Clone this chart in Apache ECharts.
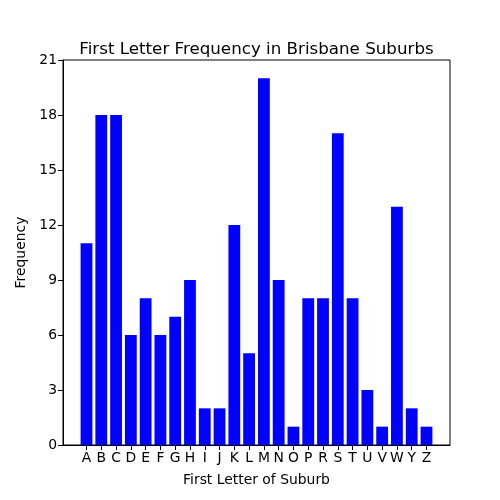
<!DOCTYPE html>
<html>
<head>
<meta charset="UTF-8">
<title>First Letter Frequency</title>
<script src="https://cdn.jsdelivr.net/npm/echarts@6/dist/echarts.min.js"></script>
<style>
  html, body { margin: 0; padding: 0; background: #fff; }
  #chart { width: 500px; height: 500px; }
</style>
</head>
<body>
<div id="chart"></div>
<script>
// letters present in the suburb list (no Q, no X)
var letters = ['A','B','C','D','E','F','G','H','I','J','K','L','M','N','O','P','R','S','T','U','V','W','Y','Z'];
var counts  = [11, 18, 18, 6, 8, 6, 7, 9, 2, 2, 12, 5, 20, 9, 1, 8, 8, 17, 8, 3, 1, 13, 2, 1];
var yTicks  = [0, 3, 6, 9, 12, 15, 18, 21];

var positions = letters.map(function (l, i) { return i; });
var barData = counts.map(function (v, i) { return [i, v]; });

var font = 'DejaVu Sans';
var chart = echarts.init(document.getElementById('chart'));

chart.setOption({
  animation: false,
  textStyle: { fontFamily: font },
  title: {
    text: 'First Letter Frequency in Brisbane Suburbs',
    left: 251.5,
    textAlign: 'center',
    top: 36,
    textStyle: { fontFamily: font, fontSize: 16.7, fontWeight: 'normal', color: '#000' }
  },
  grid: {
    left: 63, right: 50, top: 60, bottom: 55,
    show: true, borderColor: '#000', borderWidth: 1, backgroundColor: 'transparent'
  },
  xAxis: {
    type: 'value',
    // matplotlib-style margins: 0.4 bar half-width + 5% padding
    min: -1.59,
    max: 24.59,
    name: 'First Letter of Suburb',
    nameLocation: 'middle',
    nameGap: 28,
    nameTextStyle: { fontFamily: font, fontSize: 13.9, color: '#000' },
    splitLine: { show: false },
    axisLine: { show: true, onZero: false, lineStyle: { color: '#000', width: 1 } },
    axisTick: { show: true, length: 5, customValues: positions, lineStyle: { color: '#000' } },
    axisLabel: {
      customValues: positions,
      formatter: function (v) { return letters[Math.round(v)]; },
      fontFamily: font, fontSize: 13.9, color: '#000', margin: 6
    }
  },
  yAxis: {
    type: 'value',
    min: yTicks[0],
    max: yTicks[yTicks.length - 1],
    interval: 3,
    name: 'Frequency',
    nameLocation: 'middle',
    nameGap: 32,
    nameTextStyle: { fontFamily: font, fontSize: 13.9, color: '#000' },
    splitLine: { show: false },
    axisLine: { show: true, onZero: false, lineStyle: { color: '#000', width: 1 } },
    axisTick: { show: true, length: 5, lineStyle: { color: '#000' } },
    axisLabel: { fontFamily: font, fontSize: 13.9, color: '#000', margin: 6 }
  },
  series: [{
    type: 'bar',
    data: barData,
    barWidth: 11.8,
    itemStyle: { color: '#0000ff' }
  }]
});
</script>
</body>
</html>
